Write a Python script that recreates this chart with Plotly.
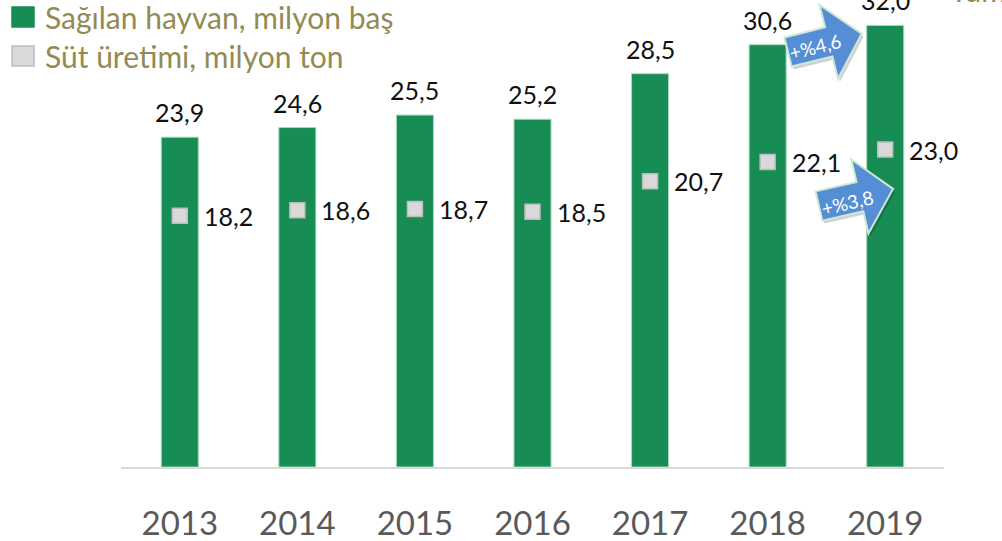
import math
import plotly.graph_objects as go

years = ["2013", "2014", "2015", "2016", "2017", "2018", "2019"]
animals = [23.9, 24.6, 25.5, 25.2, 28.5, 30.6, 32.0]      # Sağılan hayvan, milyon baş
milk = [18.2, 18.6, 18.7, 18.5, 20.7, 22.1, 23.0]         # Süt üretimi, milyon ton
legend_names = ["Sağılan hayvan, milyon baş", "Süt üretimi, milyon ton"]
growth_labels = ["+%4,6", "+%3,8"]

W, H = 1002, 541
ML, MR, MT, MB = 121, 58, 0, 74
PW, PH = W - ML - MR, H - MT - MB
FONT = "Lato"

GREEN = "#178C55"
GREY_FILL = "#D9D9D9"
GREY_LINE = "#BDBDBD"
OLIVE = "#948A54"

def fmt(v):
    return f"{v:.1f}".replace(".", ",")

xpos = list(range(len(years)))

fig = go.Figure()
fig.add_trace(go.Bar(
    x=xpos, y=animals, width=0.315, name=legend_names[0],
    marker=dict(color=GREEN, line=dict(color="#A9D8BC", width=1)),
    showlegend=False, hoverinfo="skip"))
fig.add_trace(go.Scatter(
    x=xpos, y=milk, mode="markers", name=legend_names[1],
    marker=dict(symbol="square", size=15, color=GREY_FILL,
                line=dict(color=GREY_LINE, width=1.5)),
    showlegend=False, hoverinfo="skip"))

ann = []
for i, v in zip(xpos, animals):
    ann.append(dict(x=i, y=v, xref="x", yref="y", text=fmt(v), showarrow=False,
                    xanchor="center", yanchor="bottom", yshift=8,
                    font=dict(family=FONT, size=25, color="#111111")))
for i, v in zip(xpos, milk):
    ann.append(dict(x=i, y=v, xref="x", yref="y", text=fmt(v), showarrow=False,
                    xanchor="left", yanchor="middle", xshift=22,
                    font=dict(family=FONT, size=25, color="#111111")))

def px(x):
    return (x - ML) / PW

def py(y):
    return (H - MB - y) / PH

shapes = []

# Manual legend
for i, (name, fill, line) in enumerate([(legend_names[0], GREEN, GREEN),
                                         (legend_names[1], GREY_FILL, GREY_LINE)]):
    cy = 17 + i * 39
    shapes.append(dict(type="rect", xref="paper", yref="paper",
                       x0=px(12), x1=px(34), y0=py(cy - 10), y1=py(cy + 10),
                       fillcolor=fill, line=dict(color=line, width=1.5)))
    ann.append(dict(xref="paper", yref="paper", x=px(43), y=py(cy), text=name,
                    showarrow=False, xanchor="left", yanchor="middle",
                    font=dict(family=FONT, size=30, color=OLIVE)))

# cut-off title text at top right
ann.append(dict(xref="paper", yref="paper", x=px(948), y=py(10), text="Tüm",
                showarrow=False, xanchor="left", yanchor="bottom",
                font=dict(family=FONT, size=30, color=OLIVE)))

def arrow_path(cx, cy, ang_deg, body_len=42, body_h=15, head_h=38, head_len=34, dx=0, dy=0):
    a = math.radians(ang_deg)
    d = (math.cos(a), -math.sin(a))
    n = (-math.sin(a), -math.cos(a))  # "up" perpendicular
    local = [(0, body_h), (body_len, body_h), (body_len, head_h),
             (body_len + head_len, 0), (body_len, -head_h), (body_len, -body_h), (0, -body_h)]
    pts = []
    for u, v in local:
        X = cx + u * d[0] + v * n[0] + dx
        Y = cy + u * d[1] + v * n[1] + dy
        pts.append((px(X), py(Y)))
    return "M " + " L ".join(f"{x:.5f},{y:.5f}" for x, y in pts) + " Z"

arrows = [((788, 52, 14), (815, 47)), ((819, 206, 13), (847, 202))]
for (cx, cy, ang), _ in arrows:
    shapes.append(dict(type="path", xref="paper", yref="paper",
                       path=arrow_path(cx, cy, ang, dx=2, dy=3),
                       fillcolor="rgba(0,0,0,0.18)", line=dict(width=0)))
    shapes.append(dict(type="path", xref="paper", yref="paper",
                       path=arrow_path(cx, cy, ang),
                       fillcolor="#558ED5", line=dict(color="#CDE8D6", width=2)))
for ((cx, cy, ang), (tx, ty)), lab in zip(arrows, growth_labels):
    ann.append(dict(xref="paper", yref="paper", x=px(tx), y=py(ty), text=lab,
                    showarrow=False, xanchor="center", yanchor="middle",
                    textangle=-ang,
                    font=dict(family=FONT, size=19, color="white")))

fig.update_layout(
    width=W, height=H,
    margin=dict(l=ML, r=MR, t=MT, b=MB),
    paper_bgcolor="white", plot_bgcolor="white",
    annotations=ann, shapes=shapes,
    xaxis=dict(range=[-0.5, len(years) - 0.5], tickmode="array", tickvals=xpos,
               ticktext=years, showgrid=False, zeroline=False,
               showline=True, linecolor="#D9D9D9", linewidth=2,
               ticks="outside", ticklen=26, tickcolor="rgba(0,0,0,0)",
               tickfont=dict(family=FONT, size=33, color="#595959")),
    yaxis=dict(range=[0, PH / 13.8], visible=False, showgrid=False, zeroline=False),
)

fig.write_html("out.html", config={"displayModeBar": False, "staticPlot": True},
               post_script="document.body.style.margin='0';document.body.style.overflow='hidden';")
